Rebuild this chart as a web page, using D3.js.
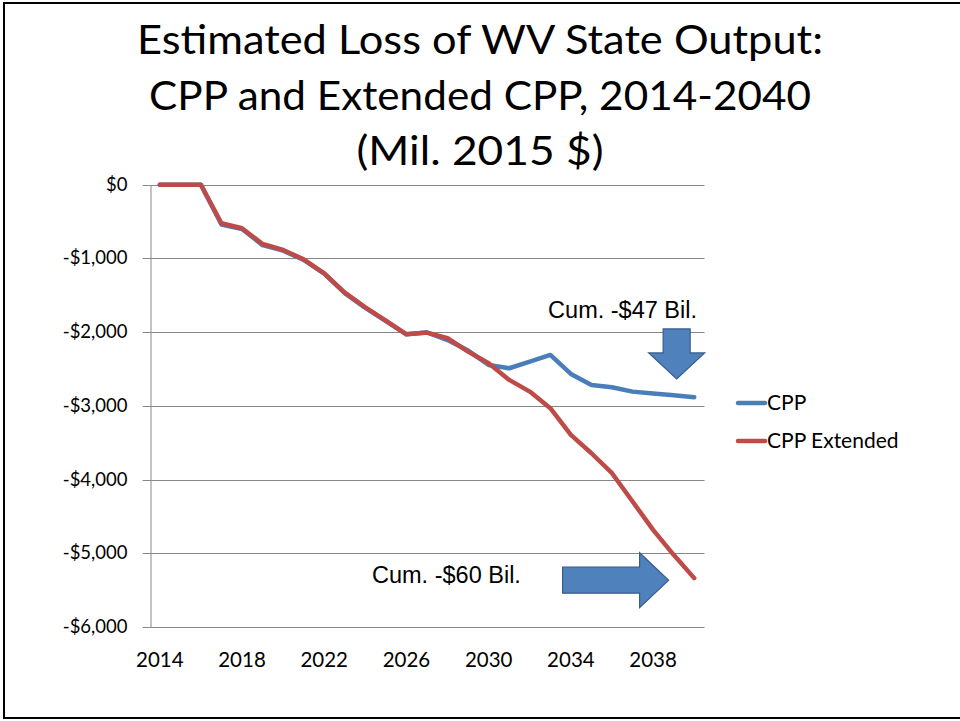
<!DOCTYPE html>
<html lang="en">
<style>
body { margin: 0; background: white; }
svg { display: block; }
.title { font-family: Lato, sans-serif; font-size: 40px; fill: black; }
.tick text { font-family: Lato, sans-serif; fill: black; }
.grid line { stroke: #878787; stroke-width: 1; }
.note { font-family: "Liberation Sans", Arial, sans-serif; font-size: 23.5px; fill: black; }
.legend text { font-family: Lato, sans-serif; font-size: 21px; fill: black; }
</style>
<body>
<svg width="960" height="721"></svg>
<script src="https://d3js.org/d3.v7.min.js"></script>
<script>
var years = d3.range(2014, 2041);
var yearTicks = [2014, 2018, 2022, 2026, 2030, 2034, 2038];
var valueTicks = [0, -1000, -2000, -3000, -4000, -5000, -6000];
var cpp = [0, 0, 0, -540, -600, -820, -895, -1020, -1205, -1470, -1670, -1850, -2030,
           -2005, -2108, -2250, -2445, -2490, -2400, -2309, -2567, -2716, -2748, -2807,
           -2834, -2856, -2883];
var cppExt = [0, 0, 0, -523, -591, -804, -885, -1012, -1202, -1464, -1663, -1844, -2029,
              -2006, -2083, -2264, -2422, -2648, -2807, -3032, -3394, -3643, -3914, -4298,
              -4682, -5021, -5337];
var seriesNames = ["CPP", "CPP Extended"];
var titleLines = ["Estimated Loss of WV State Output:", "CPP and Extended CPP, 2014-2040", "(Mil. 2015 $)"];

var svg = d3.select("svg");

// slide frame
svg.append("rect")
    .attr("x", 4).attr("y", 3)
    .attr("width", 970).attr("height", 715)
    .attr("fill", "none").attr("stroke", "black").attr("stroke-width", 2);

// title
var titleWidths = [686, 662, 247];
svg.selectAll(".title")
    .data(titleLines)
    .enter().append("text")
    .attr("class", "title")
    .attr("x", 480)
    .attr("y", function(d, i) { return 54 + i * 55.5; })
    .attr("text-anchor", "middle")
    .attr("textLength", function(d, i) { return titleWidths[i]; })
    .attr("lengthAdjust", "spacingAndGlyphs")
    .text(function(d) { return d; });

var xScale = d3.scaleBand()
    .domain(years)
    .range([149.5, 704.5]);

var yScale = d3.scaleLinear()
    .domain([-6000, 0])
    .range([627, 184.7]);

function cx(yr) { return xScale(yr) + xScale.bandwidth() / 2; }

function money(v) {
    return (v < 0 ? "-" : "") + "$" + d3.format(",")(Math.abs(v));
}

// horizontal gridlines
svg.append("g")
    .attr("class", "grid")
    .selectAll("line")
    .data(valueTicks)
    .enter().append("line")
    .attr("x1", 150.5).attr("x2", 704.5)
    .attr("y1", function(d) { return Math.round(yScale(d)) + 0.5; })
    .attr("y2", function(d) { return Math.round(yScale(d)) + 0.5; });

// y axis
var yAxisG = svg.append("g")
    .attr("transform", "translate(150.5,0)")
    .call(d3.axisLeft(yScale)
        .tickValues(valueTicks)
        .tickFormat(money)
        .tickSize(8)
        .tickSizeOuter(0)
        .tickPadding(15));
yAxisG.selectAll("line, path").attr("stroke", "#878787");
yAxisG.selectAll("text").style("font-size", "18.5px");
yAxisG.selectAll(".tick").attr("transform", function(d) {
    return "translate(0," + (Math.round(yScale(d)) + 0.5) + ")";
});

// x axis labels
var xAxisG = svg.append("g")
    .attr("transform", "translate(0,627)")
    .call(d3.axisBottom(xScale)
        .tickValues(yearTicks)
        .tickSize(0)
        .tickPadding(25));
xAxisG.select(".domain").remove();
xAxisG.selectAll("text").style("font-size", "20.5px");

// lines
var line = d3.line()
    .x(function(d, i) { return cx(years[i]); })
    .y(function(d) { return yScale(d); });

var colors = ["#4A7EBB", "#BE4B48"];
[cpp, cppExt].forEach(function(s, k) {
    svg.append("path")
        .datum(s)
        .attr("fill", "none")
        .attr("stroke", colors[k])
        .attr("stroke-width", 4.5)
        .attr("stroke-linejoin", "round")
        .attr("stroke-linecap", "round")
        .attr("d", line);
});

// legend
var legend = svg.append("g").attr("class", "legend");
seriesNames.forEach(function(name, k) {
    var ly = 403 + k * 38;
    legend.append("line")
        .attr("x1", 738).attr("x2", 765)
        .attr("y1", ly).attr("y2", ly)
        .attr("stroke", colors[k]).attr("stroke-width", 4.5)
        .attr("stroke-linecap", "round");
    legend.append("text")
        .attr("x", 767).attr("y", ly + 7)
        .text(name);
});

// annotations: block arrows anchored to data space
var arrowFill = "#4F81BD", arrowStroke = "#385D8A";
var downTip = [cx(2039) + 3, yScale(-2635)];
svg.append("path")
    .attr("d", "M" + [downTip[0] - 13.5, downTip[1] - 50] +
        "L" + [downTip[0] + 13.5, downTip[1] - 50] +
        "L" + [downTip[0] + 13.5, downTip[1] - 26] +
        "L" + [downTip[0] + 28, downTip[1] - 26] +
        "L" + downTip +
        "L" + [downTip[0] - 28, downTip[1] - 26] +
        "L" + [downTip[0] - 13.5, downTip[1] - 26] + "Z")
    .attr("fill", arrowFill).attr("stroke", arrowStroke).attr("stroke-width", 1.2);

var rightTip = [cx(2038) + 15.5, yScale(-5365)];
svg.append("path")
    .attr("d", "M" + [rightTip[0] - 106, rightTip[1] - 13] +
        "L" + [rightTip[0] - 29, rightTip[1] - 13] +
        "L" + [rightTip[0] - 29, rightTip[1] - 27.5] +
        "L" + rightTip +
        "L" + [rightTip[0] - 29, rightTip[1] + 27.5] +
        "L" + [rightTip[0] - 29, rightTip[1] + 13] +
        "L" + [rightTip[0] - 106, rightTip[1] + 13] + "Z")
    .attr("fill", arrowFill).attr("stroke", arrowStroke).attr("stroke-width", 1.2);

svg.append("text")
    .attr("class", "note")
    .attr("x", 697).attr("y", 318)
    .attr("text-anchor", "end")
    .text("Cum. -$47 Bil.");

svg.append("text")
    .attr("class", "note")
    .attr("x", 372).attr("y", 583)
    .text("Cum. -$60 Bil.");
</script>
</body>
</html>
